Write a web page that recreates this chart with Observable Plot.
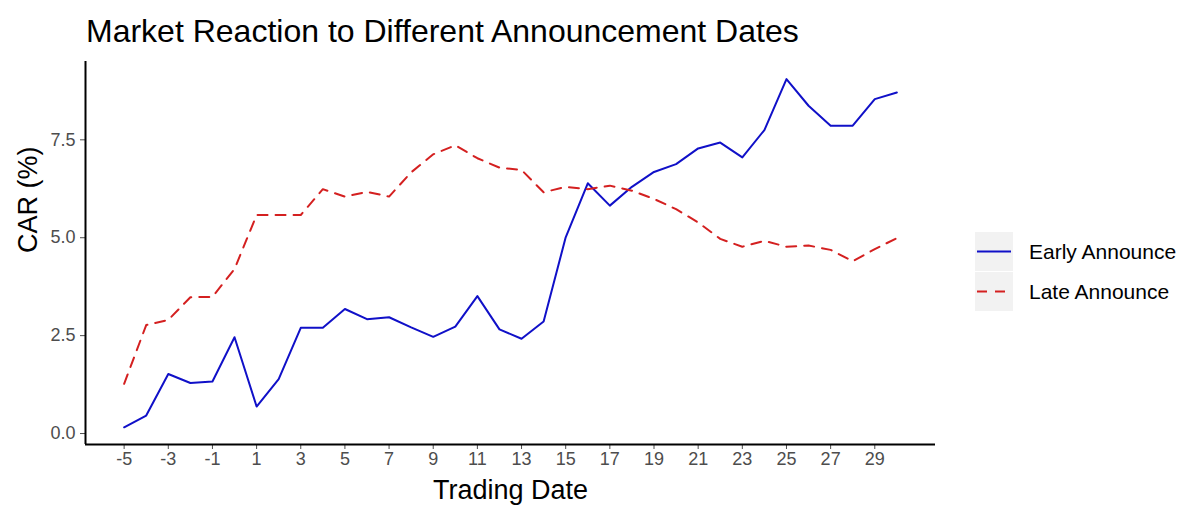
<!DOCTYPE html>
<html>
<head>
<meta charset="utf-8">
<script src="https://cdn.jsdelivr.net/npm/d3@7"></script>
<script src="https://cdn.jsdelivr.net/npm/@observablehq/plot@0.6"></script>
<style>
  html, body { margin: 0; padding: 0; background: #fff; }
  body { font-family: "Liberation Sans", Arial, sans-serif; }
  #wrap { position: relative; width: 1180px; height: 506px; overflow: hidden; }
  #title { position: absolute; left: 86px; top: 15px; font-size: 32px; line-height: 1; color: #000; white-space: nowrap; }
  #chart { position: absolute; left: 0; top: 50px; }
  #legend { position: absolute; left: 975px; top: 232px; }
  .key { display: flex; align-items: center; height: 39px; margin-bottom: 1px; }
  .swatch { width: 38px; height: 39px; background: #f2f2f2; display: flex; align-items: center; justify-content: center; }
  .lab { margin-left: 16px; font-size: 21px; color: #000; }
</style>
</head>
<body>
<div id="wrap">
  <div id="title">Market Reaction to Different Announcement Dates</div>
  <div id="chart"></div>
  <div id="legend"></div>
</div>
<script>
const days = [-5,-4,-3,-2,-1,0,1,2,3,4,5,6,7,8,9,10,11,12,13,14,15,16,17,18,19,20,21,22,23,24,25,26,27,28,29,30];
const earlyCAR = [0.16,0.46,1.52,1.29,1.33,2.46,0.69,1.39,2.70,2.70,3.18,2.92,2.97,2.71,2.47,2.73,3.51,2.66,2.42,2.86,5.01,6.39,5.82,6.30,6.68,6.88,7.28,7.43,7.05,7.75,9.05,8.37,7.86,7.86,8.54,8.71];
const lateCAR = [1.27,2.77,2.90,3.48,3.49,4.20,5.58,5.58,5.58,6.24,6.05,6.17,6.05,6.67,7.13,7.36,7.03,6.79,6.73,6.16,6.30,6.24,6.33,6.20,5.99,5.73,5.39,4.97,4.77,4.92,4.77,4.80,4.69,4.40,4.71,4.99];
const seriesNames = ["Early Announce", "Late Announce"];
const seriesColors = ["#1010c8", "#d42020"];
const seriesDash = [null, "10,8"];
const xTicks = [-5,-3,-1,1,3,5,7,9,11,13,15,17,19,21,23,25,27,29];
const yTicks = [0, 2.5, 5, 7.5];

const early = days.map((d, i) => ({day: d, car: earlyCAR[i]}));
const late = days.map((d, i) => ({day: d, car: lateCAR[i]}));

const xDom = [-6.75, 31.75];
const yDom = [-0.28, 9.5];

const chart = Plot.plot({
  width: 1180,
  height: 456,
  marginLeft: 85,
  marginRight: 245,
  marginTop: 11,
  marginBottom: 62,
  style: {fontFamily: '"Liberation Sans", Arial, sans-serif', background: "#fff", overflow: "visible"},
  x: {domain: xDom},
  y: {domain: yDom},
  marks: [
    Plot.axisY({ticks: yTicks, tickFormat: d3.format(".1f"), tickSize: 5, tickPadding: 5, fontSize: 18, color: "#4d4d4d", label: null}),
    Plot.axisX({ticks: xTicks, tickFormat: d => String(d), tickSize: 5, tickPadding: 3, fontSize: 18, color: "#4d4d4d", label: null}),
    Plot.ruleX([xDom[0]], {stroke: "#000", strokeWidth: 2}),
    Plot.ruleY([yDom[0]], {stroke: "#000", strokeWidth: 2}),
    Plot.line(early, {x: "day", y: "car", stroke: seriesColors[0], strokeWidth: 2}),
    Plot.line(late, {x: "day", y: "car", stroke: seriesColors[1], strokeWidth: 2, strokeDasharray: seriesDash[1]}),
    Plot.text(["Trading Date"], {frameAnchor: "bottom", lineAnchor: "middle", dy: 46, fontSize: 27, fill: "#000"}),
    Plot.text(["CAR (%)"], {frameAnchor: "left", lineAnchor: "middle", dx: -57, rotate: -90, fontSize: 27, fill: "#000"})
  ]
});
document.getElementById("chart").appendChild(chart);

const legend = document.getElementById("legend");
seriesNames.forEach((name, i) => {
  const row = document.createElement("div");
  row.className = "key";
  const dash = seriesDash[i] ? `stroke-dasharray="${seriesDash[i]}"` : "";
  row.innerHTML = `<div class="swatch"><svg width="38" height="39"><line x1="2" x2="36" y1="19.5" y2="19.5" stroke="${seriesColors[i]}" stroke-width="2" ${dash}></line></svg></div><div class="lab">${name}</div>`;
  legend.appendChild(row);
});
</script>
</body>
</html>
